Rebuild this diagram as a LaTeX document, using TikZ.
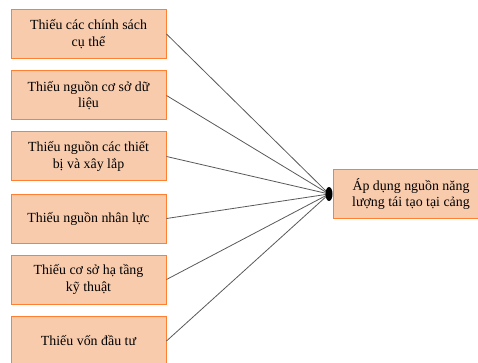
\documentclass[tikz,border=0pt]{standalone}
\usepackage{fontspec}
\setmainfont{Liberation Serif}
\begin{document}
\begin{tikzpicture}[x=1pt,y=-1pt,
  cause/.style={draw=orange!75!red!80!white, line width=1pt, fill=peach, minimum width=155pt, minimum height=49pt, align=center, inner sep=2pt, font=\fontsize{13.9}{16.5}\selectfont},
  link/.style={draw=black!65, line width=0.8pt}]
\definecolor{peach}{HTML}{F8CBAD}
\useasboundingbox (0,0) rectangle (478,363);
\begin{scope}
\clip (0,0) rectangle (478,363);
\node[cause] (c1) at (88.5,34) {Thiếu các chính sách\\cụ thể};
\node[cause] (c2) at (88.5,95.5) {Thiếu nguồn cơ sở dữ\\liệu};
\node[cause] (c3) at (88.5,156.5) {Thiếu nguồn các thiết\\bị và xây lắp};
\node[cause] (c4) at (88.5,218.5) {Thiếu nguồn nhân lực};
\node[cause] (c5) at (88.5,279.5) {Thiếu cơ sở hạ tầng\\kỹ thuật};
\node[cause] (c6) at (88.5,341) {Thiếu vốn đầu tư};
\node[cause, minimum width=156pt] (eff) at (411,194) {Áp dụng nguồn năng\\lượng tái tạo tại cảng};
\coordinate (hub) at (329,194);
\foreach \i in {1,...,6} \draw[link] (c\i.east) -- (hub);
\fill (hub) ellipse (3.5pt and 7pt);
\end{scope}
\end{tikzpicture}
\end{document}
